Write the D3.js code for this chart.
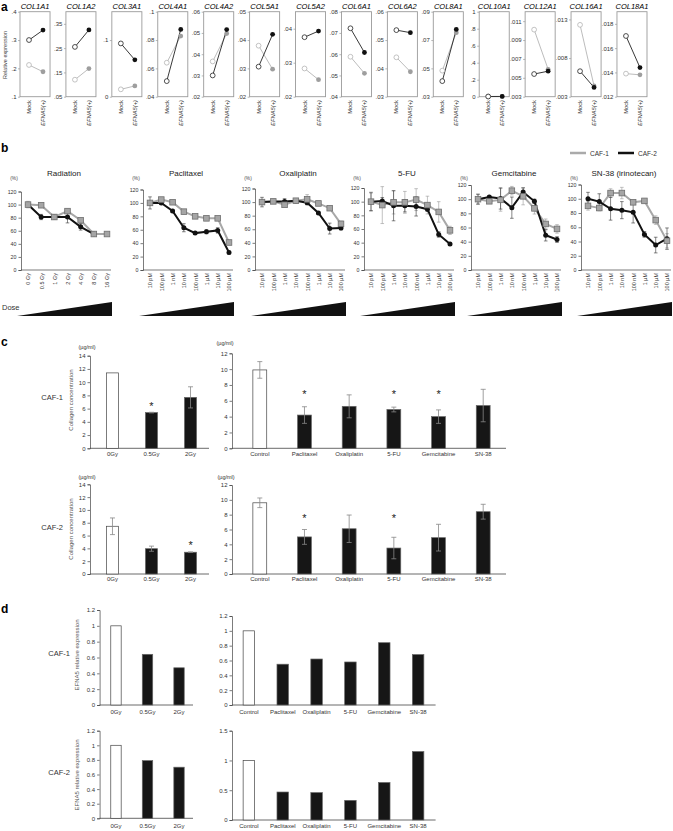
<!DOCTYPE html>
<html>
<head>
<meta charset="utf-8">
<script src="https://cdn.jsdelivr.net/npm/d3@7"></script>
<style>
  body { margin: 0; background: #fff; }
  svg { font-family: "Liberation Sans", Arial, sans-serif; }
</style>
</head>
<body>
<svg id="fig" width="673" height="831" font-family="'Liberation Sans', Arial, sans-serif"></svg>
<script>
// ---------- panel a : collagen genes, Mock vs EFNA5(+)
const genes = ["COL1A1", "COL1A2", "COL3A1", "COL4A1", "COL4A2", "COL5A1", "COL5A2",
  "COL6A1", "COL6A2", "COL8A1", "COL10A1", "COL12A1", "COL16A1", "COL18A1"];
const conditions = ["Mock", "EFNA5(+)"];
const geneDomains = [[.1, .4], [.05, .4], [0, .15], [.04, .1], [.02, .06], [.02, .05], [.02, .045],
  [.04, .08], [.03, .06], [.03, .09], [0, 1], [.003, .012], [.003, .014], [.012, .019]];
const geneTicks = [[.1, .2, .3, .4], [.05, .15, .25, .35], [0, .1], [.04, .06, .08, .1],
  [.02, .03, .04, .05, .06], [.02, .03, .04, .05], [.02, .03, .04], [.04, .05, .06, .07, .08],
  [.03, .04, .05, .06], [.03, .05, .07, .09], [0, .2, .4, .6, .8, 1],
  [.003, .005, .007, .009, .011], [.003, .008, .013], [.012, .014, .016, .018]];
const caf1Mock  = [.212, .12, .013, .064, .0366, .038, .0283, .0588, .0439, .0484, .003, .0101, .0123, .0139];
const caf1Efna5 = [.188, .166, .019, .0828, .0497, .0297, .025, .051, .0388, .0752, .003, .0059, .0044, .0138];
const caf2Mock  = [.30, .255, .094, .051, .03, .0306, .0375, .0722, .0535, .041, .002, .0054, .0063, .017];
const caf2Efna5 = [.335, .325, .065, .0875, .0516, .042, .0393, .0608, .0526, .0775, .003, .0057, .0042, .0144];

// ---------- panel b : viability after treatment (%)
const treatments = ["Radiation", "Paclitaxel", "Oxaliplatin", "5-FU", "Gemcitabine", "SN-38 (irinotecan)"];
const radDoses = ["0 Gy", "0.5 Gy", "1 Gy", "2 Gy", "4 Gy", "8 Gy", "16 Gy"];
const drugDoses = ["10 pM", "100 pM", "1 nM", "10 nM", "100 nM", "1 \u00b5M", "10 \u00b5M", "100 \u00b5M"];
const caf1Viab = [
  [100, 99, 81, 90, 76, 55, 55],
  [100, 105, 101, 87, 80, 77, 77, 41],
  [100, 101, 96, 102, 104, 98, 91, 68],
  [100, 95, 99, 99, 103, 95, 85, 58],
  [100, 97, 99, 112, 104, 87, 65, 58],
  [90, 87, 108, 108, 95, 97, 70, 41]];
const caf1ViabErr = [
  [5, 2, 3, 3, 2, 1, 1],
  [3, 2, 2, 2, 2, 3, 2, 2],
  [3, 2, 3, 3, 7, 2, 2, 4],
  [14, 27, 17, 16, 16, 13, 15, 6],
  [7, 3, 16, 6, 12, 8, 7, 6],
  [6, 4, 6, 8, 3, 2, 6, 10]];
const caf2Viab = [
  [100, 81, 81, 81, 66, 55, null],
  [100, 100, 88, 63, 55, 57, 59, 26],
  [100, 101, 101, 102, 99, 84, 61, 62],
  [100, 101, 94, 94, 93, 89, 52, 38],
  [100, 103, 101, 88, 110, 97, 49, 43],
  [100, 96, 86, 84, 81, 50, 35, 44]];
const caf2ViabErr = [
  [3, 4, 3, 9, 5, 1, null],
  [9, 2, 2, 6, 2, 3, 4, 2],
  [7, 2, 4, 3, 3, 2, 8, 3],
  [13, 5, 22, 9, 14, 3, 4, 2],
  [7, 2, 15, 15, 6, 3, 8, 4],
  [9, 11, 16, 12, 15, 4, 11, 15]];

// ---------- panel c : collagen concentration (ug/ml)
const radGroups = ["0Gy", "0.5Gy", "2Gy"];
const drugGroups = ["Control", "Paclitaxel", "Oxaliplatin", "5-FU", "Gemcitabine", "SN-38"];
const colRad1 = [11.4, 5.4, 7.7], colRad1Err = [0, 0.05, 1.6], colRad1Sig = [0, 1, 0];
const colDrug1 = [9.9, 4.2, 5.3, 4.9, 4.0, 5.4], colDrug1Err = [1.05, 1.05, 1.45, 0.3, 0.85, 2.05], colDrug1Sig = [0, 1, 0, 1, 1, 0];
const colRad2 = [7.45, 3.95, 3.4], colRad2Err = [1.3, 0.4, 0.05], colRad2Sig = [0, 0, 1];
const colDrug2 = [9.6, 5.0, 6.1, 3.5, 4.9, 8.4], colDrug2Err = [0.65, 1.0, 1.85, 1.45, 1.8, 1.0], colDrug2Sig = [0, 1, 0, 1, 0, 0];

// ---------- panel d : EFNA5 relative expression
const efRad1 = [1.0, 0.64, 0.47];
const efDrug1 = [1.0, 0.55, 0.62, 0.58, 0.84, 0.68];
const efRad2 = [1.0, 0.79, 0.70];
const efDrug2 = [1.0, 0.47, 0.46, 0.33, 0.63, 1.15];

const svg = d3.select("#fig");
const FONT = "'Liberation Sans', Arial, sans-serif";

function panelLetter(t, x, y) {
  svg.append("text").attr("x", x).attr("y", y)
    .attr("font-size", 12).attr("font-weight", "bold").text(t);
}

function styleAxis(g, size) {
  g.attr("font-family", FONT);
  g.selectAll("path, line").attr("stroke", "#444").attr("stroke-width", 0.7);
  g.selectAll("text").attr("font-size", size).attr("fill", "#333");
}

// ============ panel a
function drawPanelA() {
  panelLetter("a", 1, 11);
  const top = 11.7, bottom = 96.7;
  const bx = d3.scaleBand().domain(genes).range([20, 647]).paddingInner(0.346);
  const px = d3.scalePoint().domain(conditions).range([9, 23]);
  const fmt = d => d === 0 ? "0" : d === 1 ? "1" : String(d).replace(/^0/, "");

  svg.append("text").attr("transform", "translate(7,55) rotate(-90)")
    .attr("text-anchor", "middle").attr("font-size", 5.5).attr("fill", "#444")
    .text("Relative expression");

  genes.forEach((gene, i) => {
    const g = svg.append("g").attr("transform", `translate(${bx(gene)},0)`);
    const y = d3.scaleLinear().domain(geneDomains[i]).range([bottom, top]);

    g.append("rect").attr("x", 0).attr("y", top)
      .attr("width", bx.bandwidth()).attr("height", bottom - top)
      .attr("fill", "none").attr("stroke", "#9a9a9a").attr("stroke-width", 0.9);

    const ax = g.append("g").call(d3.axisLeft(y).tickValues(geneTicks[i])
      .tickSize(2).tickPadding(1.5).tickFormat(fmt));
    ax.select(".domain").remove();
    styleAxis(ax, 6);
    ax.selectAll("line").attr("stroke", "#9a9a9a");

    g.append("text").attr("x", bx.bandwidth() / 2).attr("y", 8.5)
      .attr("text-anchor", "middle").attr("font-size", 7.5).attr("font-style", "italic")
      .text(gene);

    conditions.forEach(c => {
      g.append("text")
        .attr("transform", `translate(${px(c) + 2},100) rotate(-90)`)
        .attr("text-anchor", "end").attr("font-size", 5.8).attr("fill", "#333")
        .attr("font-style", c === "Mock" ? "normal" : "italic")
        .text(c);
    });

    const pairs = [
      { a: caf1Mock[i], b: caf1Efna5[i], line: "#b4b4b4", fill: "#9e9e9e" },
      { a: caf2Mock[i], b: caf2Efna5[i], line: "#222", fill: "#111" }
    ];
    pairs.forEach(p => {
      g.append("line")
        .attr("x1", px("Mock")).attr("y1", y(p.a))
        .attr("x2", px("EFNA5(+)")).attr("y2", y(p.b))
        .attr("stroke", p.line).attr("stroke-width", 0.9);
    });
    pairs.forEach(p => {
      g.append("circle").attr("cx", px("Mock")).attr("cy", y(p.a)).attr("r", 2.4)
        .attr("fill", "#fff").attr("stroke", p.line).attr("stroke-width", 0.8);
      g.append("circle").attr("cx", px("EFNA5(+)")).attr("cy", y(p.b)).attr("r", 2.4)
        .attr("fill", p.fill);
    });
  });
}

// ============ panel b
function drawPanelB() {
  panelLetter("b", 1, 152);
  const left = [21, 143, 255, 364, 471, 581];
  const topY = [191.5, 189.5, 188.5, 188, 185, 184.5];
  const base = 270;

  // legend
  const leg = svg.append("g");
  [["CAF-1", "#aaa", 570], ["CAF-2", "#111", 618]].forEach(([t, c, x]) => {
    leg.append("line").attr("x1", x).attr("x2", x + 16).attr("y1", 153).attr("y2", 153)
      .attr("stroke", c).attr("stroke-width", 2.5);
    leg.append("text").attr("x", x + 20).attr("y", 155.5).attr("font-size", 6.5)
      .attr("fill", "#333").text(t);
  });

  svg.append("text").attr("x", 2).attr("y", 310).attr("font-size", 7.5).attr("fill", "#333").text("Dose");

  treatments.forEach((t, i) => {
    const x0 = left[i];
    const cats = i === 0 ? radDoses : drugDoses;
    const x = d3.scalePoint().domain(cats).range([x0 + 7, x0 + 86]);
    const y = d3.scaleLinear().domain([0, 120]).range([base, topY[i]]);
    const g = svg.append("g");

    g.append("text").attr("x", x0 + 43).attr("y", 176).attr("text-anchor", "middle")
      .attr("font-size", 8).attr("fill", "#222").text(t);
    g.append("text").attr("x", x0 - 7).attr("y", 180).attr("text-anchor", "middle")
      .attr("font-size", 4.8).attr("fill", "#444").text("(%)");

    const ay = g.append("g").attr("transform", `translate(${x0},0)`)
      .call(d3.axisLeft(y).tickValues(d3.range(0, 121, 20)).tickSize(2.5).tickPadding(2));
    styleAxis(ay, 5.3);

    const ax = g.append("g").attr("transform", `translate(0,${base})`)
      .call(d3.axisBottom(x).tickSize(0).tickPadding(3));
    ax.select(".domain").remove();
    styleAxis(ax, 5.5);
    ax.selectAll("text").attr("transform", "rotate(-90)").attr("text-anchor", "end")
      .attr("x", -3).attr("y", 0).attr("dy", "0.35em");
    g.append("line").attr("x1", x0).attr("x2", x0 + 90).attr("y1", base).attr("y2", base)
      .attr("stroke", "#444").attr("stroke-width", 0.7);

    // dose triangle
    g.append("path")
      .attr("d", `M${x0 - 4},316 L${x0 + 91},302 L${x0 + 91},316 Z`)
      .attr("fill", "#111");

    const series = [
      { v: caf1Viab[i], e: caf1ViabErr[i], line: "#a8a8a8", err: "#999" },
      { v: caf2Viab[i], e: caf2ViabErr[i], line: "#111", err: "#333" }
    ];
    const line = d3.line().defined(d => d.v != null).x(d => x(d.c)).y(d => y(d.v));
    // error bars
    series.forEach(s => {
      const pts = cats.map((c, j) => ({ c, v: s.v[j], e: s.e[j] })).filter(d => d.v != null);
      const eg = g.append("g").attr("stroke", s.err).attr("stroke-width", 0.6);
      pts.forEach(d => {
        eg.append("line").attr("x1", x(d.c)).attr("x2", x(d.c))
          .attr("y1", y(d.v - d.e)).attr("y2", y(d.v + d.e));
        [d.v - d.e, d.v + d.e].forEach(v => eg.append("line")
          .attr("x1", x(d.c) - 1.8).attr("x2", x(d.c) + 1.8).attr("y1", y(v)).attr("y2", y(v)));
      });
    });
    series.forEach(s => {
      const pts = cats.map((c, j) => ({ c, v: s.v[j] }));
      g.append("path").attr("d", line(pts)).attr("fill", "none")
        .attr("stroke", s.line).attr("stroke-width", 2);
    });
    // CAF-2 circles, then CAF-1 squares on top
    cats.forEach((c, j) => {
      if (caf2Viab[i][j] != null)
        g.append("circle").attr("cx", x(c)).attr("cy", y(caf2Viab[i][j])).attr("r", 2.5).attr("fill", "#111");
    });
    cats.forEach((c, j) => {
      g.append("rect").attr("x", x(c) - 2.8).attr("y", y(caf1Viab[i][j]) - 2.8)
        .attr("width", 5.6).attr("height", 5.6)
        .attr("fill", "#a5a5a5").attr("stroke", "#6e6e6e").attr("stroke-width", 0.8);
    });
  });
}

// ============ bar charts (panels c and d)
function barChart(o) {
  const g = svg.append("g");
  const x = d3.scaleBand().domain(o.cats).range(o.xRange)
    .paddingInner(o.pInner).paddingOuter(o.pOuter);
  const y = d3.scaleLinear().domain(o.yDomain).range(o.yRange);

  const ay = g.append("g").attr("transform", `translate(${o.axisX},0)`)
    .call(d3.axisLeft(y).tickValues(o.ticks).tickSize(2.5).tickPadding(2).tickFormat(d3.format("~g")));
  styleAxis(ay, 6);

  const ax = g.append("g").attr("transform", `translate(0,${o.yRange[0]})`)
    .call(d3.axisBottom(x).tickSize(0).tickPadding(o.labelPad));
  ax.select(".domain").remove();
  styleAxis(ax, 6);
  g.append("line").attr("x1", o.axisX).attr("x2", o.axisEnd)
    .attr("y1", o.yRange[0]).attr("y2", o.yRange[0])
    .attr("stroke", "#444").attr("stroke-width", 0.8);

  g.selectAll("rect.bar").data(o.values).join("rect").attr("class", "bar")
    .attr("x", (d, j) => x(o.cats[j]))
    .attr("y", d => y(d))
    .attr("width", x.bandwidth())
    .attr("height", d => y(0) - y(d))
    .attr("fill", (d, j) => j === 0 ? "#fff" : "#161616")
    .attr("stroke", (d, j) => j === 0 ? "#444" : "#666")
    .attr("stroke-width", 0.7);

  if (o.errs) {
    o.values.forEach((v, j) => {
      const e = o.errs[j];
      if (!e) return;
      const cx = x(o.cats[j]) + x.bandwidth() / 2;
      const eg = g.append("g").attr("stroke", "#888").attr("stroke-width", 0.8);
      eg.append("line").attr("x1", cx).attr("x2", cx).attr("y1", y(v - e)).attr("y2", y(v + e));
      [v - e, v + e].forEach(w => eg.append("line")
        .attr("x1", cx - 2.5).attr("x2", cx + 2.5).attr("y1", y(w)).attr("y2", y(w)));
    });
  }
  if (o.sig) {
    o.sig.forEach((s, j) => {
      if (!s) return;
      const cx = x(o.cats[j]) + x.bandwidth() / 2;
      const lvl = o.starLevel != null ? y(o.starLevel) : y(o.values[j] + (o.errs ? o.errs[j] : 0)) - 8;
      g.append("text").attr("x", cx).attr("y", lvl + 5.5).attr("text-anchor", "middle")
        .attr("font-size", 11).attr("fill", "#222").text("*");
    });
  }
  if (o.unit) {
    g.append("text").attr("x", o.unit[0]).attr("y", o.unit[1]).attr("text-anchor", "middle")
      .attr("font-size", 5.5).attr("fill", "#333").text("(\u00b5g/ml)");
  }
}

function rowLabels(label, lx, ly, title, tx, ty) {
  svg.append("text").attr("x", lx).attr("y", ly).attr("text-anchor", "end")
    .attr("font-size", 7.5).attr("fill", "#333").text(label);
  svg.append("text").attr("transform", `translate(${tx},${ty}) rotate(-90)`)
    .attr("text-anchor", "middle").attr("font-size", 6).attr("fill", "#555").text(title);
}

function drawPanelC() {
  panelLetter("c", 1, 346);
  // CAF-1
  rowLabels("CAF-1", 63, 400, "Collagen concentration", 73, 400);
  barChart({ cats: radGroups, values: colRad1, errs: colRad1Err, sig: colRad1Sig,
    xRange: [92, 211], pInner: 0.69, pOuter: 0.37, axisX: 90, axisEnd: 209,
    yDomain: [0, 14], yRange: [448.3, 355.7], ticks: d3.range(0, 15, 2), labelPad: 3,
    unit: [87, 349] });
  barChart({ cats: drugGroups, values: colDrug1, errs: colDrug1Err, sig: colDrug1Sig, starLevel: 7.1,
    xRange: [235, 508], pInner: 0.69, pOuter: 0.4, axisX: 232, axisEnd: 506,
    yDomain: [0, 12], yRange: [448.3, 353.3], ticks: d3.range(0, 13, 2), labelPad: 3,
    unit: [225, 345] });
  // CAF-2
  rowLabels("CAF-2", 63, 530, "Collagen concentration", 73, 529);
  barChart({ cats: radGroups, values: colRad2, errs: colRad2Err, sig: colRad2Sig,
    xRange: [92, 211], pInner: 0.69, pOuter: 0.37, axisX: 90, axisEnd: 209,
    yDomain: [0, 14], yRange: [574, 484.3], ticks: d3.range(0, 15, 2), labelPad: 3,
    unit: [87, 479] });
  barChart({ cats: drugGroups, values: colDrug2, errs: colDrug2Err, sig: colDrug2Sig, starLevel: 7.7,
    xRange: [235, 508], pInner: 0.69, pOuter: 0.4, axisX: 232, axisEnd: 506,
    yDomain: [0, 12], yRange: [574, 485], ticks: d3.range(0, 13, 2), labelPad: 3,
    unit: [226, 479] });
}

function drawPanelD() {
  panelLetter("d", 1, 613);
  rowLabels("CAF-1", 70, 656, "EFNA5 relative expression", 79, 655);
  barChart({ cats: radGroups, values: efRad1,
    xRange: [101, 194], pInner: 0.67, pOuter: 0.31, axisX: 99.6, axisEnd: 193,
    yDomain: [0, 1.2], yRange: [705, 610], ticks: d3.range(0, 1.21, 0.2).map(v => +v.toFixed(1)), labelPad: 5 });
  barChart({ cats: drugGroups, values: efDrug1,
    xRange: [234, 433], pInner: 0.66, pOuter: 0.27, axisX: 232, axisEnd: 435.6,
    yDomain: [0, 1.2], yRange: [705, 616], ticks: d3.range(0, 1.21, 0.2).map(v => +v.toFixed(1)), labelPad: 5 });
  rowLabels("CAF-2", 70, 775, "EFNA5 relative expression", 79, 775);
  barChart({ cats: radGroups, values: efRad2,
    xRange: [101, 194], pInner: 0.67, pOuter: 0.31, axisX: 99.6, axisEnd: 193,
    yDomain: [0, 1.2], yRange: [818.3, 730.7], ticks: d3.range(0, 1.21, 0.2).map(v => +v.toFixed(1)), labelPad: 5 });
  barChart({ cats: drugGroups, values: efDrug2,
    xRange: [234, 433], pInner: 0.66, pOuter: 0.27, axisX: 232, axisEnd: 435.6,
    yDomain: [0, 1.5], yRange: [820, 730.7], ticks: [0, 0.5, 1, 1.5], labelPad: 4 });
}

drawPanelA();
drawPanelB();
drawPanelC();
drawPanelD();
</script>
</body>
</html>
